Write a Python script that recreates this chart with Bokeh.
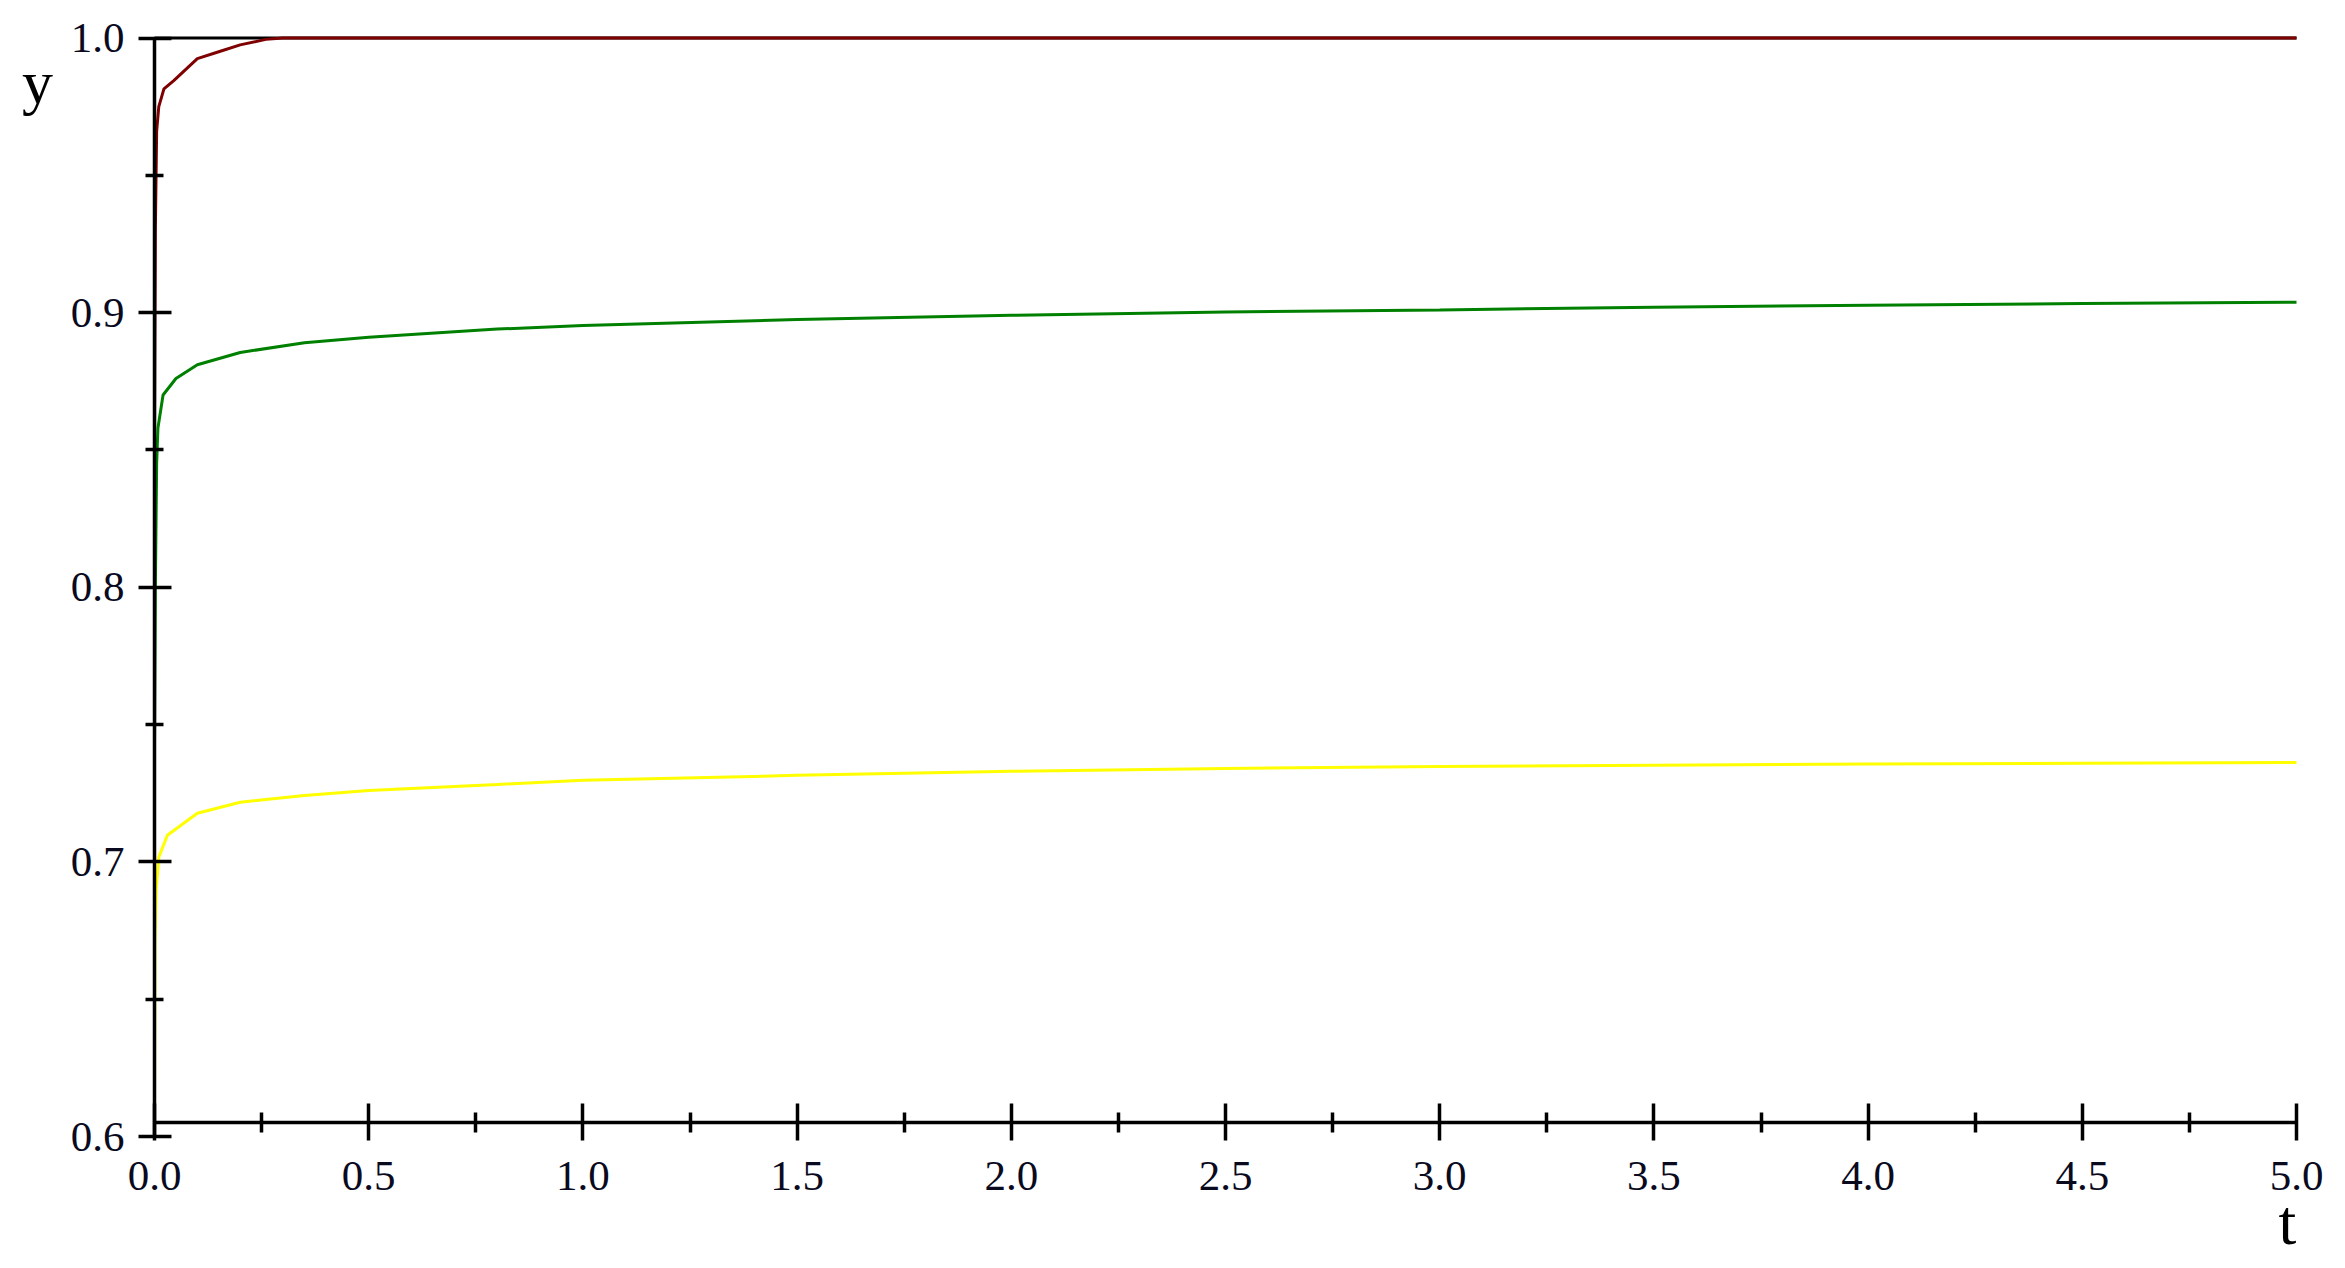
from bokeh.plotting import figure
from bokeh.models import Range1d, FixedTicker, PrintfTickFormatter, Label
from bokeh.embed import file_html
from bokeh.resources import INLINE

# ---- data ----
t_red = [0.0, 0.002, 0.005, 0.010, 0.022, 0.045, 0.10, 0.15, 0.20, 0.26, 0.30, 1.0, 2.0, 3.0, 4.0, 5.0]
y_red = [0.855, 0.93, 0.966, 0.975, 0.9815, 0.9845, 0.9925, 0.995, 0.9975, 0.9995, 1.0, 1.0, 1.0, 1.0, 1.0, 1.0]

t_green = [0.0, 0.002, 0.005, 0.008, 0.02, 0.05, 0.10, 0.20, 0.35, 0.50, 0.80, 1.0, 1.5, 2.0, 2.5, 3.0, 3.5, 4.0, 4.5, 5.0]
y_green = [0.742, 0.80, 0.845, 0.858, 0.870, 0.876, 0.881, 0.8855, 0.889, 0.891, 0.894, 0.8953, 0.8975, 0.899, 0.9002, 0.901, 0.902, 0.9027, 0.9033, 0.9038]

t_yellow = [0.0, 0.001, 0.004, 0.01, 0.03, 0.10, 0.20, 0.35, 0.50, 0.80, 1.0, 1.5, 2.0, 2.5, 3.0, 3.5, 4.0, 4.5, 5.0]
y_yellow = [0.605, 0.67, 0.69, 0.7017, 0.7097, 0.7177, 0.7217, 0.7242, 0.726, 0.7282, 0.7297, 0.7315, 0.733, 0.734, 0.7347, 0.7352, 0.7356, 0.7359, 0.7362]

t_ref = [0.0, 5.0]
y_ref = [1.0, 1.0]

x_major = [0.0, 0.5, 1.0, 1.5, 2.0, 2.5, 3.0, 3.5, 4.0, 4.5, 5.0]
x_minor = [0.25, 0.75, 1.25, 1.75, 2.25, 2.75, 3.25, 3.75, 4.25, 4.75]
y_major = [0.6, 0.7, 0.8, 0.9, 1.0]
y_minor = [0.65, 0.75, 0.85, 0.95]

FONT = "Liberation Serif"

W, H = 2340, 1260
PX_T = 428.4          # pixels per unit of t
PX_Y = 2746.25        # pixels per unit of y
X0, Y0 = 154.0, 1136.0  # pixel positions of t=0 and y=0.6

p = figure(frame_width=W, frame_height=H, min_border=0,
           x_range=Range1d(-X0 / PX_T, 5.0 + (W - (X0 + 5.0 * PX_T)) / PX_T),
           y_range=Range1d(0.6 - (H - Y0) / PX_Y, 0.6 + Y0 / PX_Y),
           output_backend="svg", toolbar_location=None)
p.outline_line_color = None
p.grid.visible = False
p.background_fill_color = "white"
p.border_fill_color = "white"

p.line(t_ref, y_ref, line_color="black", line_width=3)
p.line(t_yellow, y_yellow, line_color="#FFFF00", line_width=3)
p.line(t_green, y_green, line_color="#008000", line_width=3)
p.line(t_red, y_red, line_color="#7F0000", line_width=3)

for ax in (p.xaxis[0], p.yaxis[0]):
    ax.axis_line_color = "black"
    ax.axis_line_width = 3.5
    ax.major_tick_line_color = "black"
    ax.major_tick_line_width = 3.5
    ax.minor_tick_line_color = "black"
    ax.minor_tick_line_width = 3.5
    ax.major_label_text_font = FONT
    ax.major_label_text_font_size = "43px"
    ax.major_label_text_color = "#0a0a1e"
    ax.formatter = PrintfTickFormatter(format="%.1f")

p.xaxis.ticker = FixedTicker(ticks=x_major, minor_ticks=x_minor)
p.yaxis.ticker = FixedTicker(ticks=y_major, minor_ticks=y_minor)

# axes cross at the lower-left corner of the data area
p.xaxis.fixed_location = 0.6051
p.yaxis.fixed_location = 0.0
p.xaxis.bounds = (0.0, 5.0)
p.yaxis.bounds = (0.6, 1.0)

p.xaxis.major_tick_in = 19
p.xaxis.major_tick_out = 18
p.xaxis.minor_tick_in = 10
p.xaxis.minor_tick_out = 10
p.xaxis.major_label_standoff = 22

p.yaxis.major_tick_in = 17
p.yaxis.major_tick_out = 16
p.yaxis.minor_tick_in = 9
p.yaxis.minor_tick_out = 9
p.yaxis.major_label_standoff = 14

p.add_layout(Label(x=-0.273, y=0.9838, text="y", text_font=FONT, text_font_size="62px",
                   text_align="center", text_baseline="alphabetic", text_color="black"))
p.add_layout(Label(x=4.979, y=0.5687, text="t", text_font=FONT, text_font_size="64px",
                   text_align="center", text_baseline="alphabetic", text_color="black"))

open("out.html", "w").write(file_html(p, INLINE))
